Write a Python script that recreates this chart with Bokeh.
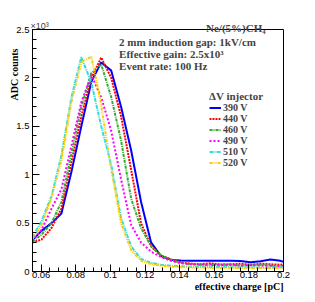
from bokeh.plotting import figure
from bokeh.models import FixedTicker, Label, Legend, LegendItem, Range1d, Title
from bokeh.embed import file_html
from bokeh.resources import INLINE

# ---- data ----
charge_pC = [0.0550, 0.0602, 0.0660, 0.0717, 0.0775, 0.0832, 0.0890, 0.0947, 0.1005,
             0.1062, 0.1120, 0.1177, 0.1235, 0.1292, 0.1350, 0.1407, 0.1465, 0.1522,
             0.1580, 0.1637, 0.1695, 0.1752, 0.1810, 0.1867, 0.1925, 0.1982, 0.2000]

adc_390V = [325, 420, 500, 600, 1030, 1500, 1960, 2160, 2075, 1700, 1250, 720, 300, 160,
            120, 113, 110, 110, 110, 112, 110, 108, 95, 105, 125, 110, 100]
adc_440V = [300, 330, 450, 650, 1130, 1600, 2000, 2210, 2000, 1600, 1050, 500, 260, 165,
            125, 95, 80, 75, 85, 70, 75, 80, 70, 80, 75, 70, 75]
adc_460V = [307, 380, 500, 720, 1220, 1700, 2050, 2140, 1800, 1350, 750, 450, 260, 165,
            120, 90, 75, 70, 65, 75, 70, 60, 65, 70, 60, 55, 60]
adc_490V = [317, 430, 650, 850, 1300, 1750, 2030, 1800, 1450, 950, 480, 300, 205, 150,
            110, 85, 75, 70, 75, 65, 70, 60, 65, 60, 60, 55, 55]
adc_510V = [352, 520, 780, 1200, 1800, 2215, 1950, 1500, 1100, 550, 260, 130, 90, 70,
            60, 55, 50, 50, 45, 50, 45, 40, 45, 40, 40, 45, 40]
adc_520V = [335, 480, 760, 1150, 1750, 2160, 2220, 1720, 1050, 500, 220, 110, 75, 60,
            50, 45, 40, 40, 40, 35, 40, 35, 35, 40, 35, 35, 35]

series_labels = ["390 V", "440 V", "460 V", "490 V", "510 V", "520 V"]
series_values = [adc_390V, adc_440V, adc_460V, adc_490V, adc_510V, adc_520V]
series_colors = ["#0000ff", "#ff0000", "#33aa33", "#ff00ff", "#33dddd", "#ffcc00"]
series_dashes = ["solid", "2 1", "3 1 1 1", "2 2", "4 1 1 1", "3 1 1 1 1 1"]

x_ticks = [0.06, 0.08, 0.10, 0.12, 0.14, 0.16, 0.18, 0.20]
x_tick_labels = ["0.06", "0.08", "0.1", "0.12", "0.14", "0.16", "0.18", "0.2"]
y_ticks = [0.0, 0.5, 1.0, 1.5, 2.0, 2.5]
y_tick_labels = ["0", "0.5", "1", "1.5", "2", "2.5"]

SERIF = "Liberation Serif"
SANS = "Liberation Sans"

p = figure(width=315, height=302, output_backend="svg", toolbar_location=None,
           x_range=Range1d(0.055, 0.2), y_range=Range1d(0, 2.5),
           min_border_left=32, min_border_right=32, min_border_top=29,
           min_border_bottom=31)
p.grid.visible = False
p.outline_line_color = "black"
p.outline_line_width = 1
p.background_fill_color = "white"
p.border_fill_color = "white"

x_minor = [round(0.055 + 0.005 * i, 4) for i in range(30)]
y_minor = [round(0.1 * i, 2) for i in range(26)]
p.xaxis.ticker = FixedTicker(ticks=x_ticks, minor_ticks=x_minor)
p.yaxis.ticker = FixedTicker(ticks=y_ticks, minor_ticks=y_minor)
p.xaxis.major_label_overrides = dict(zip(x_ticks, x_tick_labels))
p.yaxis.major_label_overrides = dict(zip(y_ticks, y_tick_labels))

for ax in (p.xaxis[0], p.yaxis[0]):
    ax.major_tick_in = 7
    ax.major_tick_out = 0
    ax.minor_tick_in = 4
    ax.minor_tick_out = 0
    ax.axis_line_color = "black"
    ax.major_tick_line_color = "black"
    ax.minor_tick_line_color = "black"
    ax.major_label_text_font = SANS
    ax.major_label_text_font_size = "9.5px"
    ax.major_label_text_color = "black"
p.xaxis.major_label_standoff = 0
p.yaxis.major_label_standoff = 3

renderers = []
for lab, vals, col, dash in zip(series_labels, series_values, series_colors, series_dashes):
    yk = [v / 1000.0 for v in vals]
    r = p.line(charge_pC, yk, line_color=col, line_width=2, line_dash=dash)
    renderers.append(r)

legend = Legend(items=[LegendItem(label=l, renderers=[r]) for l, r in zip(series_labels, renderers)],
                title="\u0394V injector", location=(177, 103),
                title_text_font=SERIF, title_text_font_style="bold",
                title_text_font_size="11px", title_standoff=0,
                label_text_font=SERIF, label_text_font_style="bold",
                label_text_font_size="10px", label_height=11, glyph_height=11,
                glyph_width=12, label_standoff=2, spacing=0, padding=0, margin=0,
                border_line_alpha=0, background_fill_alpha=0)
p.add_layout(legend)

# info text inside the frame
info_lines = ["2 mm induction gap: 1kV/cm", "Effective gain: 2.5x10\u00b3", "Event rate: 100 Hz"]
for i, t in enumerate(info_lines):
    p.add_layout(Label(x=0.105, y=2.5, y_offset=-12.5 - 12 * i, text=t,
                       text_font=SERIF, text_font_style="bold", text_font_size="11px",
                       text_baseline="middle"))

# texts above the frame, placed in the top panel so that they are not clipped
p.add_layout(Label(x=0.055, y=2.5, x_offset=-2, y_offset=3.8, text="\u00d710\u00b3",
                   text_font=SANS, text_font_size="9px", text_baseline="alphabetic"),
             "above")
p.add_layout(Label(x=0.2, y=2.5, x_offset=-18, y_offset=2, text="Ne/(5%)CH\u2084",
                   text_font=SERIF, text_font_style="bold", text_font_size="11px",
                   text_align="right", text_baseline="alphabetic"), "above")

p.add_layout(Title(text="effective charge [pC]", align="right", offset=0, standoff=0,
                   vertical_align="top",
                   text_font=SERIF, text_font_style="bold", text_font_size="10px",
                   text_color="black"), "below")
p.add_layout(Title(text="ADC counts", align="right", offset=19, standoff=-13,
                   text_font=SERIF, text_font_style="bold", text_font_size="10px",
                   text_color="black"), "left")

open("out.html", "w").write(file_html(p, INLINE))
